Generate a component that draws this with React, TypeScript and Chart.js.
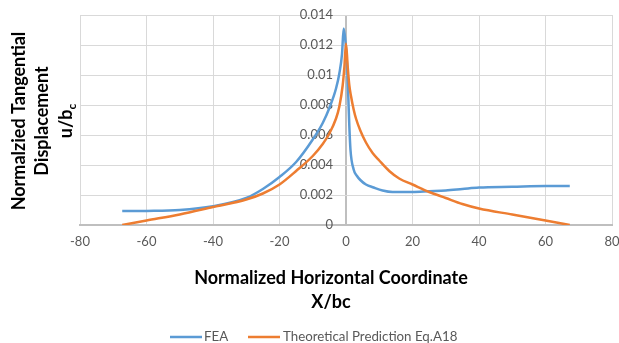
import React, { useEffect, useRef } from "react";
import { Chart, registerables } from "chart.js";

Chart.register(...registerables);

// FEA series
const feaX = [-67.3, -60, -50, -40, -30, -25, -20, -15, -10, -7, -5, -3, -2, -1.2, -0.7, -0.2, 0.3, 0.7, 1.0, 1.35, 2.3, 3.2, 4.3, 6, 8.3, 11, 14, 17, 20, 25, 30, 35, 40, 50, 60, 67.3];
const feaY = [0.00093, 0.00094, 0.001, 0.00125, 0.0018, 0.0024, 0.0032, 0.0042, 0.0057, 0.0068, 0.0078, 0.0091, 0.0101, 0.0114, 0.0131, 0.0123, 0.0108, 0.0085, 0.0066, 0.005, 0.0037, 0.0033, 0.003, 0.0027, 0.0025, 0.0023, 0.0022, 0.0022, 0.0022, 0.00225, 0.0023, 0.0024, 0.0025, 0.00255, 0.0026, 0.0026];

// Theoretical prediction series
const theoX = [-67.3, -60, -50, -40, -30, -25, -20, -15, -10, -7, -5, -3, -2, -1, -0.5, 0, 0.5, 1, 1.5, 2.3, 3, 4.3, 6, 8, 10, 13, 16, 20, 25, 30, 35, 40, 50, 60, 67.3];
const theoY = [0, 0.0003, 0.0007, 0.0012, 0.0017, 0.0021, 0.0027, 0.0036, 0.0046, 0.0054, 0.0061, 0.0071, 0.0079, 0.0093, 0.0105, 0.0121, 0.0106, 0.0093, 0.0086, 0.0077, 0.0071, 0.0063, 0.0055, 0.0048, 0.0043, 0.0036, 0.0031, 0.0027, 0.0022, 0.0018, 0.0014, 0.0011, 0.0007, 0.0003, 0];

const seriesNames = ["FEA", "Theoretical Prediction Eq.A18"];
const seriesColors = ["#5b9bd5", "#ed7d31"];
const xTitleLines = ["Normalized Horizontal Coordinate", "X/bc"];
const yTitleLines = ["Normalzied Tangential", "Displacement"];
const yTitleUnit = ["u/b", "c"];

const FONT = "Lato, 'Open Sans', sans-serif";

const titlesPlugin = {
  id: "titlesAndLegend",
  afterDraw(chart: any) {
    const ctx = chart.ctx as CanvasRenderingContext2D;
    ctx.save();
    // X title
    ctx.fillStyle = "#000000";
    ctx.font = `bold 18px ${FONT}`;
    ctx.textAlign = "center";
    ctx.textBaseline = "middle";
    ctx.fillText(xTitleLines[0], 331, 278);
    ctx.fillText(xTitleLines[1], 331, 302);

    // Y title (rotated)
    const cy = 121;
    const xs = [19, 42, 66];
    for (let i = 0; i < 2; i++) {
      ctx.save();
      ctx.translate(xs[i], cy);
      ctx.rotate(-Math.PI / 2);
      ctx.fillText(yTitleLines[i], 0, 0);
      ctx.restore();
    }
    ctx.save();
    ctx.translate(xs[2], cy);
    ctx.rotate(-Math.PI / 2);
    ctx.font = `bold 18px ${FONT}`;
    const w1 = ctx.measureText(yTitleUnit[0]).width;
    ctx.font = `bold 12px ${FONT}`;
    const w2 = ctx.measureText(yTitleUnit[1]).width;
    const start = -(w1 + w2) / 2;
    ctx.textAlign = "left";
    ctx.font = `bold 18px ${FONT}`;
    ctx.fillText(yTitleUnit[0], start, 0);
    ctx.font = `bold 12px ${FONT}`;
    ctx.fillText(yTitleUnit[1], start + w1, 6);
    ctx.restore();

    // Legend
    const ly = 337;
    const items = [
      { x: 170, tx: 204 },
      { x: 248, tx: 283 },
    ];
    ctx.font = `13.3px ${FONT}`;
    ctx.textAlign = "left";
    ctx.textBaseline = "middle";
    items.forEach((it, i) => {
      ctx.strokeStyle = seriesColors[i];
      ctx.lineWidth = 2.5;
      ctx.beginPath();
      ctx.moveTo(it.x, ly);
      ctx.lineTo(it.x + 32, ly);
      ctx.stroke();
      ctx.fillStyle = "#595959";
      ctx.fillText(seriesNames[i], it.tx, ly);
    });
    ctx.restore();
  },
};

export default function App() {
  const ref = useRef<HTMLCanvasElement | null>(null);
  useEffect(() => {
    if (!ref.current) return;
    const chart = new Chart(ref.current, {
      type: "line",
      data: {
        datasets: [
          {
            label: seriesNames[0],
            data: feaX.map((x, i) => ({ x, y: feaY[i] })),
            borderColor: seriesColors[0],
            borderWidth: 2.5,
            pointRadius: 0,
            fill: false,
            cubicInterpolationMode: "monotone",
            order: 2,
          },
          {
            label: seriesNames[1],
            data: theoX.map((x, i) => ({ x, y: theoY[i] })),
            borderColor: seriesColors[1],
            borderWidth: 2.5,
            pointRadius: 0,
            fill: false,
            cubicInterpolationMode: "monotone",
            order: 1,
          },
        ],
      },
      options: {
        animation: false,
        responsive: false,
        maintainAspectRatio: false,
        layout: { padding: { left: 80, right: 7, top: 15, bottom: 0 } },
        plugins: { legend: { display: false }, tooltip: { enabled: false } },
        scales: {
          x: {
            type: "linear",
            min: -80,
            max: 80,
            ticks: {
              stepSize: 20,
              color: "#595959",
              font: { family: FONT, size: 13 },
              padding: 9,
            },
            grid: {
              color: (c: any) => (c.tick && c.tick.value === 0 ? "#bfbfbf" : "#d9d9d9"),
              lineWidth: (c: any) => (c.tick && c.tick.value === 0 ? 2 : 1),
              drawTicks: false,
            },
            border: { display: true, color: "#bfbfbf", width: 2 },
            afterFit: (s: any) => {
              s.height = 118;
              s.paddingLeft = 0;
              s.paddingRight = 0;
            },
          },
          y: {
            type: "linear",
            position: { x: -3.9 } as any,
            min: 0,
            max: 0.014,
            ticks: {
              stepSize: 0.002,
              color: "#595959",
              font: { family: FONT, size: 13 },
              padding: 0,
              callback: (v: any) => String(parseFloat(Number(v).toFixed(3))),
            },
            grid: { color: "#d9d9d9", lineWidth: 1, drawTicks: false },
            border: { display: false },
          },
        },
      },
      plugins: [titlesPlugin],
    });
    return () => chart.destroy();
  }, []);
  return (
    <div style={{ position: "absolute", left: 0, top: 0, width: 619, height: 343, background: "#fff" }}>
      <canvas ref={ref} width={619} height={343} style={{ display: "block" }} />
    </div>
  );
}
